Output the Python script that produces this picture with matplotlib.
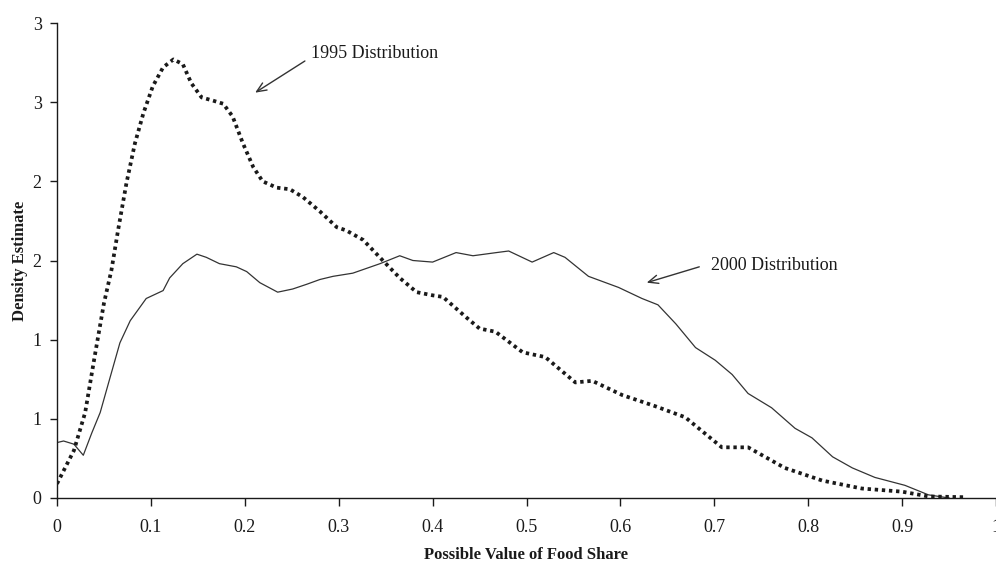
"""
Food share density estimates, 1995 vs 2000.
"""
import matplotlib
matplotlib.use("Agg")
import matplotlib.pyplot as plt

plt.rcParams["font.family"] = ["Liberation Serif", "DejaVu Serif"]

# ----- data -----
x_1995 = [0.0, 0.018, 0.030, 0.040, 0.050, 0.058, 0.065, 0.074, 0.083, 0.092,
          0.102, 0.113, 0.124, 0.134, 0.143, 0.154, 0.166, 0.177, 0.187, 0.198,
          0.209, 0.219, 0.234, 0.248, 0.262, 0.280, 0.298, 0.308, 0.326, 0.347,
          0.365, 0.383, 0.400, 0.411, 0.436, 0.450, 0.467, 0.496, 0.520, 0.552,
          0.570, 0.602, 0.637, 0.669, 0.708, 0.736, 0.775, 0.815, 0.857, 0.900,
          0.928, 0.967]
y_1995 = [0.09, 0.30, 0.54, 0.89, 1.23, 1.44, 1.69, 1.99, 2.24, 2.43,
          2.60, 2.72, 2.77, 2.74, 2.62, 2.53, 2.51, 2.49, 2.41, 2.24,
          2.09, 2.00, 1.96, 1.95, 1.90, 1.81, 1.71, 1.69, 1.63, 1.50,
          1.39, 1.30, 1.28, 1.27, 1.14, 1.07, 1.05, 0.92, 0.89, 0.73,
          0.74, 0.65, 0.58, 0.51, 0.32, 0.32, 0.19, 0.11, 0.06, 0.04,
          0.01, 0.005]

x_2000 = [0.0, 0.007, 0.018, 0.028, 0.037, 0.046, 0.056, 0.067, 0.078, 0.095,
          0.113, 0.120, 0.134, 0.149, 0.159, 0.173, 0.191, 0.202, 0.216, 0.235,
          0.251, 0.266, 0.280, 0.294, 0.315, 0.344, 0.365, 0.379, 0.400, 0.425,
          0.443, 0.468, 0.481, 0.506, 0.529, 0.541, 0.566, 0.598, 0.623, 0.640,
          0.659, 0.680, 0.701, 0.719, 0.736, 0.761, 0.786, 0.804, 0.826, 0.847,
          0.871, 0.903, 0.928, 0.950]
y_2000 = [0.35, 0.36, 0.34, 0.27, 0.41, 0.54, 0.75, 0.98, 1.12, 1.26,
          1.31, 1.39, 1.48, 1.54, 1.52, 1.48, 1.46, 1.43, 1.36, 1.30,
          1.32, 1.35, 1.38, 1.40, 1.42, 1.48, 1.53, 1.50, 1.49, 1.55,
          1.53, 1.55, 1.56, 1.49, 1.55, 1.52, 1.40, 1.33, 1.26, 1.22,
          1.10, 0.95, 0.87, 0.78, 0.66, 0.57, 0.44, 0.38, 0.26, 0.19,
          0.13, 0.08, 0.02, 0.0]

xticks = [0, 0.1, 0.2, 0.3, 0.4, 0.5, 0.6, 0.7, 0.8, 0.9, 1.0]
xtick_labels = ["0", "0.1", "0.2", "0.3", "0.4", "0.5", "0.6", "0.7", "0.8", "0.9", "1"]
yticks = [0, 0.5, 1.0, 1.5, 2.0, 2.5, 3.0]
ytick_labels = ["0", "1", "1", "2", "2", "3", "3"]   # rounded as in the original

INK = "#1a1a1a"

fig = plt.figure(figsize=(9.96, 5.61), dpi=100)
ax = fig.add_axes([57 / 996, 63 / 561, 939 / 996, 475 / 561])

ax.plot(x_2000, y_2000, color="#333333", linewidth=0.9)
ax.plot(x_1995, y_1995, color=INK, linewidth=2.7,
        linestyle=(0, (0.9, 1.0)), dash_capstyle="butt")

ax.set_xlim(0, 1.0)
ax.set_ylim(0, 3)
ax.set_xticks(xticks)
ax.set_xticklabels(xtick_labels)
ax.set_yticks(yticks)
ax.set_yticklabels(ytick_labels)

for side in ("top", "right"):
    ax.spines[side].set_visible(False)
for side in ("left", "bottom"):
    ax.spines[side].set_color(INK)
    ax.spines[side].set_linewidth(1.0)
ax.tick_params(axis="x", direction="out", length=6, width=1, colors=INK,
               labelsize=13, pad=9)
ax.tick_params(axis="y", direction="out", length=5, width=1, colors=INK,
               labelsize=13, pad=6)

ax.set_xlabel("Possible Value of Food Share", fontsize=12, fontweight="bold",
              color=INK, labelpad=8)
ax.set_ylabel("Density Estimate", fontsize=12, fontweight="bold",
              color=INK, labelpad=3)

# annotations
arrow = dict(arrowstyle="->, head_length=0.7, head_width=0.3",
             color="#333333", linewidth=1.0, shrinkA=0, shrinkB=0)
ax.annotate("", xy=(0.211, 2.56), xytext=(0.264, 2.76), arrowprops=arrow)
ax.text(0.271, 2.81, "1995 Distribution", fontsize=13, color=INK,
        ha="left", va="center")
ax.annotate("", xy=(0.628, 1.36), xytext=(0.684, 1.46), arrowprops=arrow)
ax.text(0.697, 1.47, "2000 Distribution", fontsize=13, color=INK,
        ha="left", va="center")

fig.savefig("out.png", dpi=100)
